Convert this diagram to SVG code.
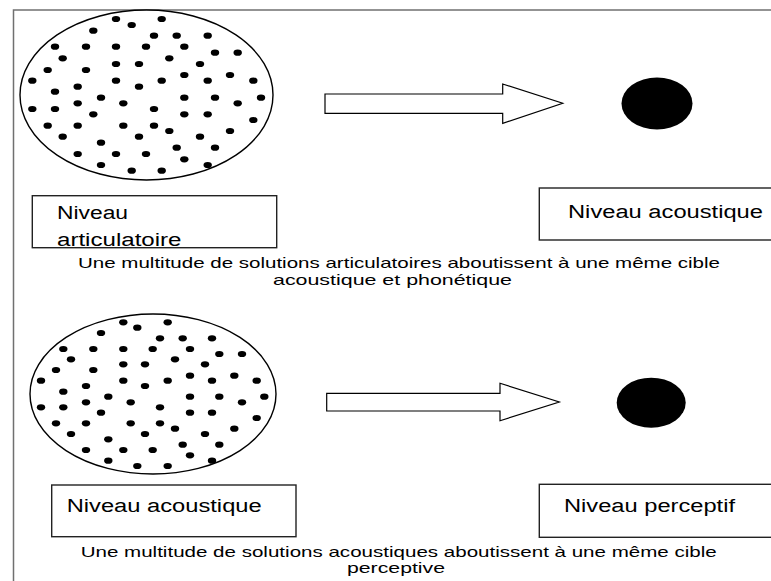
<svg xmlns="http://www.w3.org/2000/svg" xmlns:xlink="http://www.w3.org/1999/xlink" width="771" height="581" viewBox="0 0 771 581">
<style>
.frame{stroke:#707070;stroke-width:1.5;fill:none}
.cloud{fill:#fff;stroke:#000;stroke-width:1.4}
.target{fill:#000}
.box{fill:#fff;stroke:#222;stroke-width:1.4}
.arrow{fill:#fff;stroke:#000;stroke-width:1.2;stroke-linejoin:miter}
.lbl{font-family:"Liberation Sans",Arial,sans-serif;font-size:18px;fill:#000}
.cap{font-family:"Liberation Sans",Arial,sans-serif;font-size:14.5px;fill:#000}
</style>
<defs>
<ellipse id="d" cx="0" cy="0" rx="4.2" ry="3.1" fill="#000"/>
</defs>
<rect width="771" height="581" fill="#fff"/>
<path class="frame" d="M13.5,581 V10 H771"/>

<g id="cloud1">
<ellipse class="cloud" cx="146.5" cy="95" rx="126.5" ry="85"/>
<use xlink:href="#d" x="116" y="19"/><use xlink:href="#d" x="161.7" y="19"/><use xlink:href="#d" x="131.7" y="25"/><use xlink:href="#d" x="93.3" y="30.7"/><use xlink:href="#d" x="154" y="35.7"/><use xlink:href="#d" x="176.7" y="35.7"/><use xlink:href="#d" x="207.7" y="35.7"/><use xlink:href="#d" x="55" y="46.7"/><use xlink:href="#d" x="86" y="46.7"/><use xlink:href="#d" x="116" y="46.7"/><use xlink:href="#d" x="146" y="46.7"/><use xlink:href="#d" x="184.3" y="46.7"/><use xlink:href="#d" x="215" y="52.7"/><use xlink:href="#d" x="237.7" y="52.7"/><use xlink:href="#d" x="62.7" y="58.3"/><use xlink:href="#d" x="169.3" y="58.3"/><use xlink:href="#d" x="116" y="64"/><use xlink:href="#d" x="139" y="64"/><use xlink:href="#d" x="200" y="64"/><use xlink:href="#d" x="47.7" y="70"/><use xlink:href="#d" x="86" y="70"/><use xlink:href="#d" x="184.3" y="75"/><use xlink:href="#d" x="230" y="75"/><use xlink:href="#d" x="32.3" y="80.7"/><use xlink:href="#d" x="116" y="80.7"/><use xlink:href="#d" x="161.7" y="80.7"/><use xlink:href="#d" x="207.7" y="80.7"/><use xlink:href="#d" x="253.3" y="80.7"/><use xlink:href="#d" x="77.7" y="86.7"/><use xlink:href="#d" x="139" y="86.7"/><use xlink:href="#d" x="55" y="91.7"/><use xlink:href="#d" x="101" y="97.7"/><use xlink:href="#d" x="184.3" y="97.7"/><use xlink:href="#d" x="215" y="97.7"/><use xlink:href="#d" x="261" y="97.7"/><use xlink:href="#d" x="77.7" y="103.3"/><use xlink:href="#d" x="123.3" y="103.3"/><use xlink:href="#d" x="237.7" y="103.3"/><use xlink:href="#d" x="32.3" y="109"/><use xlink:href="#d" x="55" y="109"/><use xlink:href="#d" x="154" y="109"/><use xlink:href="#d" x="93.3" y="114.3"/><use xlink:href="#d" x="184.3" y="114.3"/><use xlink:href="#d" x="207.7" y="114.3"/><use xlink:href="#d" x="253.3" y="120"/><use xlink:href="#d" x="47.7" y="125.7"/><use xlink:href="#d" x="77.7" y="125.7"/><use xlink:href="#d" x="123.3" y="125.7"/><use xlink:href="#d" x="154" y="125.7"/><use xlink:href="#d" x="169.3" y="131"/><use xlink:href="#d" x="230" y="131"/><use xlink:href="#d" x="62.7" y="136.7"/><use xlink:href="#d" x="139" y="136.7"/><use xlink:href="#d" x="200" y="136.7"/><use xlink:href="#d" x="101" y="142.7"/><use xlink:href="#d" x="176.7" y="147.7"/><use xlink:href="#d" x="215" y="147.7"/><use xlink:href="#d" x="77.7" y="154"/><use xlink:href="#d" x="116" y="154"/><use xlink:href="#d" x="146" y="154"/><use xlink:href="#d" x="184.3" y="159.3"/><use xlink:href="#d" x="101" y="165"/><use xlink:href="#d" x="207.7" y="165"/><use xlink:href="#d" x="131.7" y="170.7"/><use xlink:href="#d" x="161.7" y="170.7"/>
</g>

<g id="target1"><ellipse class="target" cx="657" cy="103.5" rx="35.5" ry="26"/></g>

<g id="box-articulatoire">
<rect class="box" x="32.3" y="195.7" width="244.4" height="52"/>
<text class="lbl" x="57" y="219.3" textLength="71" lengthAdjust="spacingAndGlyphs">Niveau</text>
<text class="lbl" x="57" y="245.5" textLength="124.5" lengthAdjust="spacingAndGlyphs">articulatoire</text>
</g>

<g id="box-acoustique-1">
<rect class="box" x="539.3" y="188" width="240" height="52"/>
<text class="lbl" x="568" y="218.3" textLength="195" lengthAdjust="spacingAndGlyphs">Niveau acoustique</text>
</g>

<g id="caption1">
<text class="cap" x="78" y="268.3" textLength="642" lengthAdjust="spacingAndGlyphs">Une multitude de solutions articulatoires aboutissent à une même cible</text>
<text class="cap" x="273" y="285" textLength="239" lengthAdjust="spacingAndGlyphs">acoustique et phonétique</text>
</g>

<g id="cloud2">
<ellipse class="cloud" cx="153" cy="394" rx="123" ry="80"/>
<use xlink:href="#d" x="123.3" y="322.3"/><use xlink:href="#d" x="167.7" y="322.3"/><use xlink:href="#d" x="137.3" y="327.7"/><use xlink:href="#d" x="101" y="333"/><use xlink:href="#d" x="160" y="338.3"/><use xlink:href="#d" x="182.7" y="338.3"/><use xlink:href="#d" x="212" y="338.3"/><use xlink:href="#d" x="63.3" y="349"/><use xlink:href="#d" x="93.3" y="349"/><use xlink:href="#d" x="123.3" y="349"/><use xlink:href="#d" x="152.7" y="349"/><use xlink:href="#d" x="190" y="349"/><use xlink:href="#d" x="219.3" y="354"/><use xlink:href="#d" x="242" y="354"/><use xlink:href="#d" x="71" y="359.3"/><use xlink:href="#d" x="175" y="359.3"/><use xlink:href="#d" x="123.3" y="364.3"/><use xlink:href="#d" x="145" y="364.3"/><use xlink:href="#d" x="205" y="364.3"/><use xlink:href="#d" x="56" y="370"/><use xlink:href="#d" x="93.3" y="370"/><use xlink:href="#d" x="190" y="375.7"/><use xlink:href="#d" x="234.3" y="375.7"/><use xlink:href="#d" x="41" y="380.7"/><use xlink:href="#d" x="123.3" y="380.7"/><use xlink:href="#d" x="167.7" y="380.7"/><use xlink:href="#d" x="212" y="380.7"/><use xlink:href="#d" x="256.7" y="380.7"/><use xlink:href="#d" x="86" y="386"/><use xlink:href="#d" x="145" y="386"/><use xlink:href="#d" x="63.3" y="391.7"/><use xlink:href="#d" x="108.3" y="396.7"/><use xlink:href="#d" x="190" y="396.7"/><use xlink:href="#d" x="219.3" y="396.7"/><use xlink:href="#d" x="264.3" y="396.7"/><use xlink:href="#d" x="86" y="402.3"/><use xlink:href="#d" x="130.7" y="402.3"/><use xlink:href="#d" x="242" y="402.3"/><use xlink:href="#d" x="41" y="407.3"/><use xlink:href="#d" x="63.3" y="407.3"/><use xlink:href="#d" x="160" y="407.3"/><use xlink:href="#d" x="101" y="412.7"/><use xlink:href="#d" x="190" y="412.7"/><use xlink:href="#d" x="212" y="412.7"/><use xlink:href="#d" x="256.7" y="418"/><use xlink:href="#d" x="56" y="423.3"/><use xlink:href="#d" x="86" y="423.3"/><use xlink:href="#d" x="130.7" y="423.3"/><use xlink:href="#d" x="160" y="423.3"/><use xlink:href="#d" x="175" y="428.7"/><use xlink:href="#d" x="234.3" y="428.7"/><use xlink:href="#d" x="71" y="434"/><use xlink:href="#d" x="145" y="434"/><use xlink:href="#d" x="205" y="434"/><use xlink:href="#d" x="108.3" y="439.3"/><use xlink:href="#d" x="182.7" y="444.7"/><use xlink:href="#d" x="219.3" y="444.7"/><use xlink:href="#d" x="86" y="450"/><use xlink:href="#d" x="123.3" y="450"/><use xlink:href="#d" x="152.7" y="450"/><use xlink:href="#d" x="190" y="455.3"/><use xlink:href="#d" x="108.3" y="460.7"/><use xlink:href="#d" x="212" y="460.7"/><use xlink:href="#d" x="137.3" y="466"/><use xlink:href="#d" x="167.7" y="466"/>
</g>

<g id="target2"><ellipse class="target" cx="651.2" cy="402.7" rx="34.5" ry="25"/></g>

<g id="box-acoustique-2">
<rect class="box" x="51.7" y="485" width="244.3" height="51.7"/>
<text class="lbl" x="66.7" y="512.3" textLength="195" lengthAdjust="spacingAndGlyphs">Niveau acoustique</text>
</g>

<g id="box-perceptif">
<rect class="box" x="539.3" y="484.3" width="240" height="53"/>
<text class="lbl" x="564" y="512.3" textLength="171" lengthAdjust="spacingAndGlyphs">Niveau perceptif</text>
</g>

<g id="caption2">
<text class="cap" x="80.7" y="556.7" textLength="636" lengthAdjust="spacingAndGlyphs">Une multitude de solutions acoustiques aboutissent à une même cible</text>
<text class="cap" x="347" y="573.3" textLength="98" lengthAdjust="spacingAndGlyphs">perceptive</text>
</g>

<g id="connectors">
<polygon class="arrow" points="325,94 502.7,94 502.7,84 562.7,103.3 502.7,123.3 502.7,113.3 325,113.3"/>
<polygon class="arrow" points="326.7,393.3 500,393.3 500,383.3 559.3,402 500,420.7 500,411 326.7,411"/>
</g>
</svg>
